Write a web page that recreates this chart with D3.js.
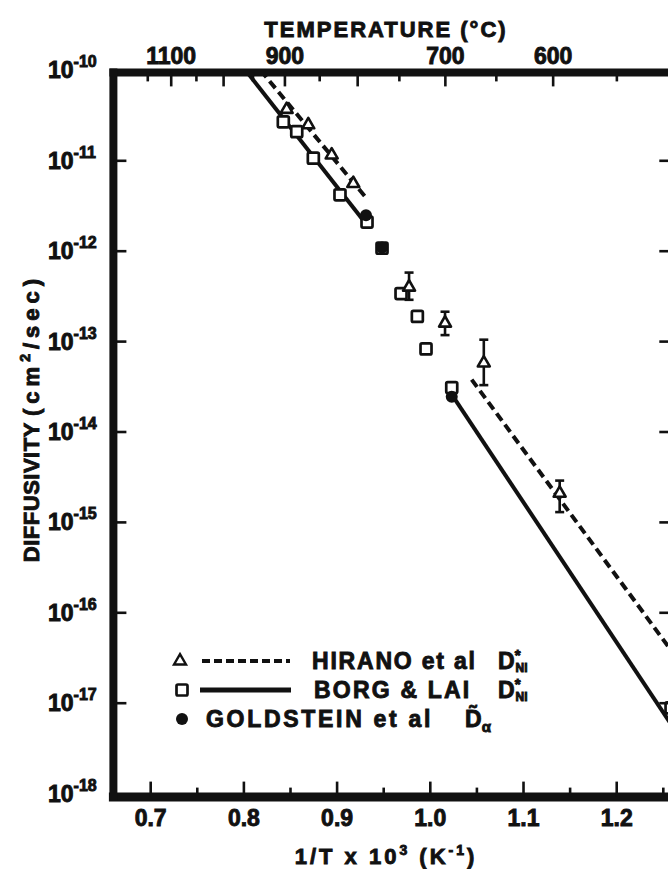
<!DOCTYPE html>
<html>
<head>
<meta charset="utf-8">
<script src="https://cdn.jsdelivr.net/npm/d3@7"></script>
<style>
  html, body { margin: 0; padding: 0; background: #fff; }
  svg { display: block; }
  text { font-family: "Liberation Sans", Arial, sans-serif; font-weight: 700; fill: #111; stroke: #111; stroke-width: 0.9; }
</style>
</head>
<body>
<svg id="chart" width="668" height="869"></svg>
<script>
// ---- axis ticks ----
const xTickValues = [0.7, 0.8, 0.9, 1.0, 1.1, 1.2];
const xTickLabels = ["0.7", "0.8", "0.9", "1.0", "1.1", "1.2"];
const xMinorTicks = [0.75, 0.85, 0.95, 1.05, 1.15, 1.25];
const yExponents = [-10, -11, -12, -13, -14, -15, -16, -17, -18];
const tempTicks = [1150, 1100, 1050, 1000, 950, 900, 850, 800, 750, 700, 650, 600, 550];
const tempLabels = [1100, 900, 700, 600];

// ---- Hirano et al, D*Ni (1000/T in 1/K, D in cm^2/s) ----
const hiranoInvT = [0.8459, 0.8691, 0.8942, 0.9174, 0.9772, 1.0158, 1.0574, 1.1388];
const hiranoD    = [3.7e-11, 2.5e-11, 1.16e-11, 5.6e-12, 4.0e-13, 1.6e-13, 5.8e-14, 2.1e-15];
const hiranoErrLow  = [null, null, null, null, 2.9e-13, 1.18e-13, 3.3e-14, 1.3e-15];
const hiranoErrHigh = [null, null, null, null, 5.8e-13, 2.14e-13, 1.05e-13, 2.9e-15];
const hiranoFitHighInvT = [0.818, 0.932];
const hiranoFitHighD    = [1.0e-10, 3.8e-12];
const hiranoFitLowInvT  = [1.0444, 1.265];
const hiranoFitLowD     = [3.8e-14, 3.1e-17];

// ---- Borg & Lai, D*Ni ----
const borgInvT = [0.8423, 0.8567, 0.8745, 0.9031, 0.9321, 0.9482, 0.9686, 0.9861, 0.9954, 1.0230, 1.2583];
const borgD    = [2.7e-11, 2.1e-11, 1.07e-11, 4.2e-12, 2.1e-12, 1.08e-12, 3.4e-13, 1.9e-13, 8.3e-14, 3.1e-14, 8.9e-18];
const borgFitHighInvT = [0.802, 0.928];
const borgFitHighD    = [1.0e-10, 2.2e-12];
const borgFitLowInvT  = [1.0247, 1.265];
const borgFitLowD     = [2.45e-14, 4.6e-18];

// ---- Goldstein et al, interdiffusion in alpha ----
const goldInvT = [0.9310, 0.9482, 1.0230];
const goldD    = [2.5e-12, 1.1e-12, 2.45e-14];

// ---- scales ----
const x = d3.scaleLinear().domain([0.66, 1.265]).range([113.4, 677.3]);
// printed temperature scale along the top edge
const xTop = d3.scaleLinear().domain([0.66, 1.265]).range([108.7, 662.8]);
const y = d3.scaleLog().domain([1e-18, 1e-10]).range([793.6, 70.4]);
const invT = c => 1000 / (c + 273.15);

const svg = d3.select("#chart");
const X0 = x.range()[0], X1 = x.range()[1];
const YT = y.range()[1], YB = y.range()[0];

// ---- clip for data marks ----
svg.append("clipPath").attr("id", "plot-clip")
  .append("rect").attr("x", X0).attr("y", YT).attr("width", X1 - X0).attr("height", YB - YT);

// ---- fit lines ----
const line = d3.line().x(d => x(d[0])).y(d => y(d[1]));
const pairs = (a, b) => a.map((v, i) => [v, b[i]]);
const lines = svg.append("g").attr("clip-path", "url(#plot-clip)").attr("fill", "none").attr("stroke", "#111");
[[hiranoFitHighInvT, hiranoFitHighD], [hiranoFitLowInvT, hiranoFitLowD]].forEach(([a, b]) => {
  lines.append("path").attr("d", line(pairs(a, b)))
    .attr("stroke-width", 4).attr("stroke-dasharray", "9,5");
});
[[borgFitHighInvT, borgFitHighD], [borgFitLowInvT, borgFitLowD]].forEach(([a, b]) => {
  lines.append("path").attr("d", line(pairs(a, b))).attr("stroke-width", 4);
});

// ---- error bars ----
const hiranoPts = hiranoInvT.map((v, i) => ({ v, d: hiranoD[i], lo: hiranoErrLow[i], hi: hiranoErrHigh[i] }));
const eb = svg.append("g").attr("stroke", "#111").attr("stroke-width", 2.6);
const withErr = hiranoPts.filter(p => p.lo !== null);
eb.selectAll("line.v").data(withErr).join("line").attr("class", "v")
  .attr("x1", p => x(p.v)).attr("x2", p => x(p.v)).attr("y1", p => y(p.lo)).attr("y2", p => y(p.hi));
eb.selectAll("line.t").data(withErr).join("line").attr("class", "t")
  .attr("x1", p => x(p.v) - 4.5).attr("x2", p => x(p.v) + 4.5).attr("y1", p => y(p.hi)).attr("y2", p => y(p.hi));
eb.selectAll("line.b").data(withErr).join("line").attr("class", "b")
  .attr("x1", p => x(p.v) - 4.5).attr("x2", p => x(p.v) + 4.5).attr("y1", p => y(p.lo)).attr("y2", p => y(p.lo));

// ---- markers ----
const marks = svg.append("g").attr("clip-path", "url(#plot-clip)");
const sq = 11;
marks.selectAll("rect.borg").data(borgInvT.map((v, i) => [v, borgD[i]])).join("rect")
  .attr("class", "borg")
  .attr("x", d => x(d[0]) - sq / 2).attr("y", d => y(d[1]) - sq / 2)
  .attr("width", sq).attr("height", sq).attr("rx", 1.5)
  .attr("fill", "#fff").attr("stroke", "#111").attr("stroke-width", 2.7);

const tri = d3.symbol().type(d3.symbolTriangle).size(62);
marks.selectAll("path.hirano").data(hiranoPts).join("path")
  .attr("class", "hirano")
  .attr("transform", p => `translate(${x(p.v)},${y(p.d)})`)
  .attr("d", tri).attr("fill", "#fff").attr("stroke", "#111").attr("stroke-width", 2.6)
  .attr("stroke-linejoin", "round");

marks.selectAll("circle.gold").data(goldInvT.map((v, i) => [v, goldD[i]])).join("circle")
  .attr("class", "gold")
  .attr("cx", d => x(d[0])).attr("cy", d => y(d[1])).attr("r", 6).attr("fill", "#111");

// ---- frame ----
const frame = svg.append("g").attr("stroke", "#111").attr("stroke-linecap", "square");
frame.append("line").attr("x1", X0).attr("x2", X1).attr("y1", YT + 2).attr("y2", YT + 2).attr("stroke-width", 8);
frame.append("line").attr("x1", X0).attr("x2", X1).attr("y1", YB + 3.5).attr("y2", YB + 3.5).attr("stroke-width", 9);
frame.append("line").attr("x1", X0).attr("x2", X0).attr("y1", YT + 2).attr("y2", YB + 3.5).attr("stroke-width", 8);
frame.append("line").attr("x1", X1).attr("x2", X1).attr("y1", YT + 2).attr("y2", YB + 3.5).attr("stroke-width", 8);

// ---- ticks ----
const ticks = svg.append("g").attr("stroke", "#111").attr("stroke-width", 2.6);
const innerDecades = yExponents.slice(1, -1).map(e => Math.pow(10, e));
ticks.selectAll("line.yl").data(innerDecades).join("line").attr("class", "yl")
  .attr("x1", X0).attr("x2", X0 + 13).attr("y1", d => y(d)).attr("y2", d => y(d));
ticks.selectAll("line.yr").data(innerDecades).join("line").attr("class", "yr")
  .attr("x1", X1).attr("x2", X1 - 18).attr("y1", d => y(d)).attr("y2", d => y(d));
ticks.selectAll("line.xb").data(xTickValues).join("line").attr("class", "xb")
  .attr("x1", d => x(d)).attr("x2", d => x(d)).attr("y1", YB + 3).attr("y2", YB - 12);
ticks.selectAll("line.xm").data(xMinorTicks).join("line").attr("class", "xm")
  .attr("x1", d => x(d)).attr("x2", d => x(d)).attr("y1", YB + 3).attr("y2", YB - 6);
ticks.selectAll("line.xt").data(tempTicks).join("line").attr("class", "xt")
  .attr("x1", t => xTop(invT(t))).attr("x2", t => xTop(invT(t)))
  .attr("y1", YT + 2).attr("y2", t => YT + (t % 100 === 0 ? 16 : 11));

// ---- tick labels ----
const lbl = svg.append("g").attr("font-size", 23);
lbl.selectAll("text.xb").data(xTickValues).join("text").attr("class", "xb")
  .attr("x", d => x(d)).attr("y", 826).attr("text-anchor", "middle")
  .text((d, i) => xTickLabels[i]);
lbl.selectAll("text.xt").data(tempLabels).join("text").attr("class", "xt")
  .attr("x", t => xTop(invT(t))).attr("y", 64).attr("text-anchor", "middle")
  .text(t => t);
const yl = lbl.selectAll("text.yl").data(yExponents).join("text").attr("class", "yl")
  .attr("x", 48).attr("y", e => y(Math.pow(10, e)) + 8);
yl.append("tspan").text("10");
yl.append("tspan").attr("font-size", 16).attr("dy", -11).text(e => String(e));

// ---- axis titles ----
svg.append("text").attr("x", 386).attr("y", 37).attr("text-anchor", "middle")
  .attr("font-size", 22).attr("letter-spacing", 2).text("TEMPERATURE (°C)");

const xt = svg.append("text").attr("x", 386).attr("y", 864).attr("text-anchor", "middle")
  .attr("font-size", 22).attr("letter-spacing", 3);
xt.append("tspan").text("1/T x 10");
xt.append("tspan").attr("font-size", 14).attr("dy", -9).text("3");
xt.append("tspan").attr("dy", 9).text("  (K");
xt.append("tspan").attr("font-size", 14).attr("dy", -9).text("-1");
xt.append("tspan").attr("dy", 9).text(")");

const yt = svg.append("text").attr("transform", "translate(39,418) rotate(-90)")
  .attr("text-anchor", "middle").attr("font-size", 22);
yt.append("tspan").attr("letter-spacing", 0.5).text("DIFFUSIVITY ");
yt.append("tspan").attr("letter-spacing", 5).text("(cm");
yt.append("tspan").attr("font-size", 14).attr("dy", -9).attr("letter-spacing", 5).text("2");
yt.append("tspan").attr("dy", 9).attr("letter-spacing", 5).text("/sec)");

// ---- legend ----
const lg = svg.append("g");
const rowY = [661, 690, 719];
lg.append("path").attr("transform", `translate(180,${rowY[0]})`).attr("d", tri)
  .attr("fill", "#fff").attr("stroke", "#111").attr("stroke-width", 2.4);
lg.append("line").attr("x1", 202).attr("x2", 290).attr("y1", rowY[0]).attr("y2", rowY[0])
  .attr("stroke", "#111").attr("stroke-width", 4).attr("stroke-dasharray", "8,4");
lg.append("rect").attr("x", 182 - sq / 2).attr("y", rowY[1] - sq / 2).attr("width", sq).attr("height", sq)
  .attr("rx", 1.5).attr("fill", "#fff").attr("stroke", "#111").attr("stroke-width", 2.7);
lg.append("line").attr("x1", 200).attr("x2", 291).attr("y1", rowY[1]).attr("y2", rowY[1])
  .attr("stroke", "#111").attr("stroke-width", 5);
lg.append("circle").attr("cx", 182).attr("cy", rowY[2]).attr("r", 6).attr("fill", "#111");

const lt = lg.append("g").attr("font-size", 23);
lt.append("text").attr("x", 312).attr("y", rowY[0] + 8).attr("letter-spacing", 1.8).text("HIRANO et al");
lt.append("text").attr("x", 314).attr("y", rowY[1] + 8).attr("letter-spacing", 2.2).text("BORG & LAI");
lt.append("text").attr("x", 206).attr("y", rowY[2] + 8).attr("letter-spacing", 2.7).text("GOLDSTEIN et al");

[0, 1].forEach(i => {
  const t = lt.append("text").attr("x", 498).attr("y", rowY[i] + 8);
  t.append("tspan").text("D");
  t.append("tspan").attr("font-size", 15).attr("dy", -9).text("*");
  t.append("tspan").attr("font-size", 12).attr("dx", -5).attr("dy", 12).text("Ni");
});
const dt = lt.append("text").attr("x", 465).attr("y", rowY[2] + 8);
dt.append("tspan").text("D\u0303");
dt.append("tspan").attr("font-size", 15).attr("dy", 5).text("α");
</script>
</body>
</html>
